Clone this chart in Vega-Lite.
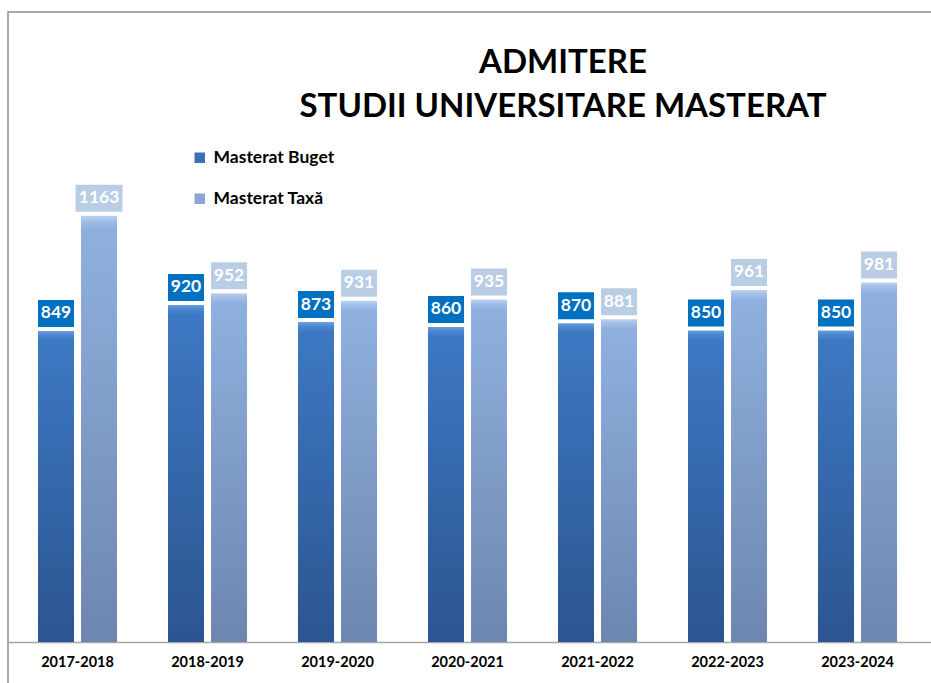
{
  "$schema": "https://vega.github.io/schema/vega-lite/v6.json",
  "width": 930,
  "height": 680,
  "autosize": {"type": "none"},
  "padding": {"left": 8, "top": 12, "right": 0, "bottom": 0},
  "background": "white",
  "config": {"view": {"stroke": "#8c8c8c", "strokeWidth": 1.5}, "font": "Lato"},
  "title": {
    "text": ["ADMITERE", "STUDII UNIVERSITARE MASTERAT"],
    "anchor": "middle",
    "frame": "group",
    "dx": 90,
    "offset": -112,
    "font": "Lato",
    "fontSize": 33,
    "fontWeight": "bold",
    "color": "black",
    "lineHeight": 44
  },
  "data": {
    "values": [
      {"year": "2017-2018", "series": "Masterat Buget", "value": 849},
      {"year": "2017-2018", "series": "Masterat Taxă", "value": 1163},
      {"year": "2018-2019", "series": "Masterat Buget", "value": 920},
      {"year": "2018-2019", "series": "Masterat Taxă", "value": 952},
      {"year": "2019-2020", "series": "Masterat Buget", "value": 873},
      {"year": "2019-2020", "series": "Masterat Taxă", "value": 931},
      {"year": "2020-2021", "series": "Masterat Buget", "value": 860},
      {"year": "2020-2021", "series": "Masterat Taxă", "value": 935},
      {"year": "2021-2022", "series": "Masterat Buget", "value": 870},
      {"year": "2021-2022", "series": "Masterat Taxă", "value": 881},
      {"year": "2022-2023", "series": "Masterat Buget", "value": 850},
      {"year": "2022-2023", "series": "Masterat Taxă", "value": 961},
      {"year": "2023-2024", "series": "Masterat Buget", "value": 850},
      {"year": "2023-2024", "series": "Masterat Taxă", "value": 981}
    ]
  },
  "encoding": {
    "x": {
      "field": "year",
      "type": "nominal",
      "sort": null,
      "scale": {"paddingInner": 0.392, "paddingOuter": 0.2729, "align": 0.4228},
      "axis": {
        "title": null,
        "orient": "bottom",
        "offset": -50,
        "domainColor": "#a6a6a6",
        "domainWidth": 1.5,
        "ticks": false,
        "grid": false,
        "labelAngle": 0,
        "labelFont": "Lato",
        "labelFontSize": 14.5,
        "labelFontWeight": "bold",
        "labelColor": "black",
        "labelPadding": 13
      }
    },
    "xOffset": {
      "field": "series",
      "type": "nominal",
      "sort": ["Masterat Buget", "Masterat Taxă"],
      "scale": {"paddingInner": 0.163, "paddingOuter": 0}
    },
    "y": {
      "field": "value",
      "type": "quantitative",
      "scale": {"domain": [-136.5, 1719.4], "nice": false, "zero": false},
      "axis": null
    }
  },
  "layer": [
    {
      "mark": {"type": "bar", "opacity": 0},
      "encoding": {
        "color": {
          "field": "series",
          "type": "nominal",
          "sort": ["Masterat Buget", "Masterat Taxă"],
          "scale": {
            "domain": ["Masterat Buget", "Masterat Taxă"],
            "range": ["#3a70b6", "#8aa6d2"]
          },
          "legend": {
            "orient": "none",
            "legendX": 183,
            "legendY": 137,
            "title": null,
            "symbolType": "square",
            "symbolSize": 110,
            "symbolOpacity": 1,
            "symbolStrokeWidth": 0,
            "labelFont": "Lato",
            "labelFontSize": 17.5,
            "labelFontWeight": "bold",
            "labelColor": "black",
            "labelOffset": 5,
            "rowPadding": 22,
            "padding": 0
          }
        }
      }
    },
    {
      "mark": {"type": "bar"},
      "encoding": {
        "color": {
          "condition": {
            "test": "datum.series === 'Masterat Buget'",
            "value": {"gradient": "linear", "x1": 0, "y1": 0, "x2": 0, "y2": 1, "stops": [
              {"offset": 0, "color": "#6b9fe0"},
              {"offset": 0.012, "color": "#4d88d2"},
              {"offset": 0.03, "color": "#3d78c3"},
              {"offset": 1, "color": "#2b5590"}
            ]}
          },
          "value": {"gradient": "linear", "x1": 0, "y1": 0, "x2": 0, "y2": 1, "stops": [
            {"offset": 0, "color": "#bcd3f2"},
            {"offset": 0.012, "color": "#a2bfe8"},
            {"offset": 0.03, "color": "#8fb0de"},
            {"offset": 1, "color": "#6d86ae"}
          ]}
        }
      }
    },
    {
      "transform": [{"filter": "datum.value < 1000"}],
      "mark": {"type": "bar", "yOffset": -31, "y2Offset": -4},
      "encoding": {
        "y2": {"field": "value"},
        "color": {
          "condition": {"test": "datum.series === 'Masterat Buget'", "value": "#0070c0"},
          "value": "#b9cde5"
        }
      }
    },
    {
      "transform": [{"filter": "datum.value >= 1000"}],
      "mark": {"type": "bar", "yOffset": -31, "y2Offset": -4, "width": 47, "color": "#b9cde5"},
      "encoding": {
        "y2": {"field": "value"}
      }
    },
    {
      "mark": {
        "type": "text",
        "yOffset": -17.5,
        "baseline": "middle",
        "align": "center",
        "font": "Lato",
        "fontSize": 17.5,
        "fontWeight": "bold",
        "color": "white"
      },
      "encoding": {
        "text": {"field": "value", "type": "quantitative", "format": "d"}
      }
    }
  ]
}
